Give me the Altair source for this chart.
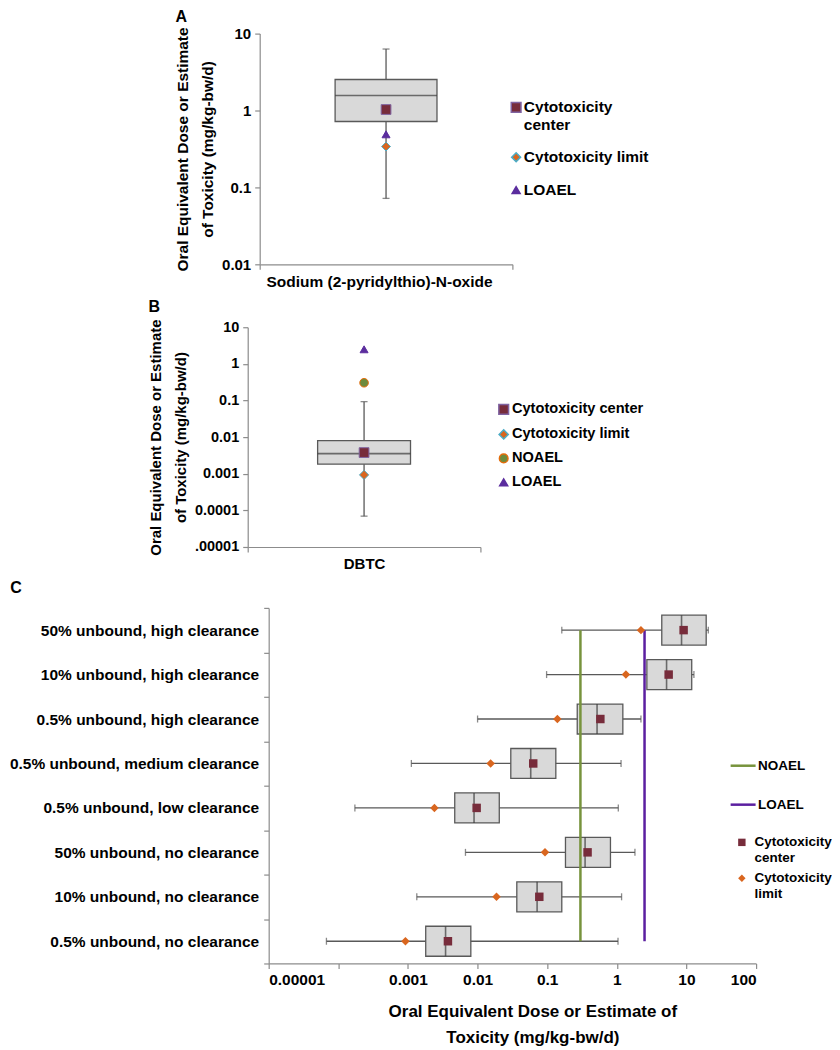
import altair as alt
import pandas as pd

FONT = "Liberation Sans"
AXIS_GREY = "#8C8C8C"
BOX_FILL = "#D9D9D9"
BOX_EDGE = "#595959"

# ---------------- data ----------------
# Panel A
a_compound = ["Sodium (2-pyridylthio)-N-oxide"]
a_low = [0.072]
a_q1 = [0.72]
a_median = [1.57]
a_q3 = [2.53]
a_high = [6.3]
a_series = ["Cytotoxicity center", "Cytotoxicity limit", "LOAEL"]
a_values = [1.03, 0.34, 0.49]

# Panel B
b_compound = ["DBTC"]
b_low = [0.0000695]
b_q1 = [0.00182]
b_median = [0.00355]
b_q3 = [0.0080]
b_high = [0.093]
b_series = ["Cytotoxicity center", "Cytotoxicity limit", "NOAEL", "LOAEL"]
b_values = [0.00378, 0.00093, 0.305, 2.5]

# Panel C
c_scenarios = [
    "50% unbound, high clearance",
    "10% unbound, high clearance",
    "0.5% unbound, high clearance",
    "0.5% unbound, medium clearance",
    "0.5% unbound, low clearance",
    "50% unbound, no clearance",
    "10% unbound, no clearance",
    "0.5% unbound, no clearance",
]
c_low = [0.162, 0.098, 0.010, 0.00112, 0.000173, 0.0067, 0.00134, 0.0000675]
c_q1 = [4.42, 2.7, 0.27, 0.030, 0.0047, 0.183, 0.0366, 0.0018]
c_median = [8.5, 5.18, 0.52, 0.058, 0.0089, 0.35, 0.0716, 0.00347]
c_q3 = [19.2, 11.9, 1.22, 0.133, 0.0205, 0.81, 0.162, 0.008]
c_high = [20.6, 12.8, 2.22, 1.15, 1.05, 1.82, 1.17, 1.04]
c_center = [9.1, 5.55, 0.58, 0.063, 0.0097, 0.38, 0.077, 0.00375]
c_limit = [2.22, 1.35, 0.14, 0.0154, 0.0024, 0.093, 0.0187, 0.00092]
c_ref_names = ["NOAEL", "LOAEL"]
c_ref_values = [0.3, 2.5]

# styles per series
series_order = ["Cytotoxicity center", "Cytotoxicity limit", "NOAEL", "LOAEL"]
series_shape = ["square", "diamond", "circle", "triangle-up"]
series_fill = ["#772C3B", "#D9661F", "#6E8B3D", "#5B2D9E"]
series_edge = ["#8064A2", "#4BACC6", "#E46C0A", "#5B2D9E"]
series_size = [95, 64, 64, 64]
ref_colors = ["#77933C", "#5B1FA0"]

Y_TITLE = ["Oral Equivalent Dose or Estimate", "of Toxicity (mg/kg-bw/d)"]


def series_scales(dom):
    idx = [series_order.index(s) for s in dom]
    return (
        alt.Scale(domain=dom, range=[series_shape[i] for i in idx]),
        alt.Scale(domain=dom, range=[series_fill[i] for i in idx]),
        alt.Scale(domain=dom, range=[series_edge[i] for i in idx]),
        alt.Scale(domain=dom, range=[series_size[i] for i in idx]),
    )


def vertical_panel(letter, compound, low, q1, med, q3, high, series, values,
                   width, height, box_w, ydom, yticks, ylabel_expr,
                   legend, title_offset, font_size, xlabel_offset):
    box_df = pd.DataFrame({"compound": compound, "low": low, "q1": q1,
                           "med": med, "q3": q3, "high": high})
    pts_df = pd.DataFrame({"compound": compound * len(series),
                           "series": series, "value": values})
    yscale = alt.Scale(type="log", domain=ydom)
    yaxis = alt.Axis(values=yticks, labelExpr=ylabel_expr, title=Y_TITLE,
                     titleFontSize=font_size, titleLineHeight=25, titlePadding=6,
                     labelFontSize=font_size - 0.5, labelPadding=4, tickSize=5)
    xaxis = alt.Axis(title=None, labelAngle=0, tickBand="extent", tickSize=5,
                     labelFontSize=font_size, labelPadding=5, labelLimit=400,
                     labelOffset=xlabel_offset)
    X = alt.X("compound:N", scale=alt.Scale(paddingInner=0, paddingOuter=0), axis=xaxis)

    def Y(f):
        return alt.Y(f"{f}:Q", scale=yscale, axis=yaxis)

    base = alt.Chart(box_df)
    whisk = base.mark_rule(color=BOX_EDGE, strokeWidth=1.3).encode(x=X, y=Y("low"), y2="high:Q")
    cap_lo = base.mark_tick(color=BOX_EDGE, size=7, thickness=1.3, orient="horizontal").encode(x=X, y=Y("low"))
    cap_hi = base.mark_tick(color=BOX_EDGE, size=7, thickness=1.3, orient="horizontal").encode(x=X, y=Y("high"))
    box = base.mark_bar(size=box_w, fill=BOX_FILL, stroke=BOX_EDGE, strokeWidth=1.3).encode(
        x=X, y=Y("q1"), y2="q3:Q")
    median = base.mark_tick(size=box_w, thickness=1.6, color="#3A3A3A", orient="horizontal").encode(
        x=X, y=Y("med"))
    dom = [s for s in series_order if s in series]
    sh, fi, st, sz = series_scales(dom)
    pts = alt.Chart(pts_df).mark_point(filled=True, opacity=1, strokeWidth=1).encode(
        x=X, y=Y("value"),
        shape=alt.Shape("series:N", scale=sh, legend=legend, title=None),
        color=alt.Color("series:N", scale=fi, legend=legend, title=None),
        stroke=alt.Stroke("series:N", scale=st, legend=legend, title=None),
        size=alt.Size("series:N", scale=sz, legend=None),
    )
    return alt.layer(whisk, cap_lo, cap_hi, box, median, pts).properties(
        width=width, height=height,
        title=alt.TitleParams(letter, anchor="start", fontSize=16, fontWeight="bold",
                              font=FONT, offset=title_offset),
    )


def spacer(w):
    return alt.Chart(pd.DataFrame({"v": [0]})).mark_point(opacity=0, size=1).properties(width=w, height=1)


legA = alt.Legend(orient="none", legendX=249, legendY=66, padding=0, rowPadding=16,
                  labelFontSize=15.5, labelFont=FONT, labelFontWeight="bold",
                  labelColor="black", symbolSize=50, labelOffset=0, labelLimit=300,
                  labelExpr="datum.label == 'Cytotoxicity center' ? ['Cytotoxicity', 'center'] : datum.label")
panelA = vertical_panel("A", a_compound, a_low, a_q1, a_median, a_q3, a_high,
                        a_series, a_values, 253, 231, 102, [0.01, 10],
                        [0.01, 0.1, 1, 10], "format(datum.value, '~f')",
                        legA, 2, 15.5, -7)

legB = alt.Legend(orient="none", legendX=249, legendY=75, padding=0, rowPadding=8,
                  labelFontSize=14.6, labelFont=FONT, labelFontWeight="bold",
                  labelColor="black", symbolSize=50, labelOffset=1, labelLimit=300)
panelB = vertical_panel("B", b_compound, b_low, b_q1, b_median, b_q3, b_high,
                        b_series, b_values, 233, 220, 93, [0.00001, 10],
                        [0.00001, 0.0001, 0.001, 0.01, 0.1, 1, 10],
                        "datum.value < 0.00002 ? '.00001' : format(datum.value, '~f')",
                        legB, 4, 15, 0)

# ---------------- panel C ----------------
c_box_df = pd.DataFrame({"scenario": c_scenarios, "low": c_low, "q1": c_q1,
                         "med": c_median, "q3": c_q3, "high": c_high})
c_pts_df = pd.DataFrame({
    "scenario": c_scenarios * 2,
    "series": ["Cytotoxicity center"] * len(c_scenarios) + ["Cytotoxicity limit"] * len(c_scenarios),
    "value": c_center + c_limit,
})
c_ref_df = pd.DataFrame({"name": c_ref_names, "value": c_ref_values,
                         "first": [c_scenarios[0]] * 2, "last": [c_scenarios[-1]] * 2})

cx_scale = alt.Scale(type="log", domain=[0.00001, 100])
cx_axis = alt.Axis(values=[0.00001, 0.0001, 0.001, 0.01, 0.1, 1, 10, 100],
                   format="~f", labelFontSize=15.5, labelPadding=4, tickSize=5,
                   title=["Oral Equivalent Dose or Estimate of", "Toxicity (mg/kg-bw/d)"],
                   titleFontSize=17, titleLineHeight=26, titlePadding=16, titleX=264)
cy_axis = alt.Axis(title=None, tickBand="extent", tickSize=5, labelFontSize=15.5,
                   labelPadding=5, labelLimit=400)
cy_scale = alt.Scale(domain=c_scenarios, paddingInner=0, paddingOuter=0)
CY = alt.Y("scenario:N", scale=cy_scale, axis=cy_axis)


def CX(f):
    return alt.X(f"{f}:Q", scale=cx_scale, axis=cx_axis)


cbase = alt.Chart(c_box_df)
c_whisk = cbase.mark_rule(color=BOX_EDGE, strokeWidth=1.3).encode(y=CY, x=CX("low"), x2="high:Q")
c_cap_lo = cbase.mark_tick(color=BOX_EDGE, size=7, thickness=1.3, orient="vertical").encode(y=CY, x=CX("low"))
c_cap_hi = cbase.mark_tick(color=BOX_EDGE, size=7, thickness=1.3, orient="vertical").encode(y=CY, x=CX("high"))
c_box = cbase.mark_bar(size=30, fill=BOX_FILL, stroke=BOX_EDGE, strokeWidth=1.3).encode(
    y=CY, x=CX("q1"), x2="q3:Q")
c_med = cbase.mark_tick(size=30, thickness=1.6, color="#3A3A3A", orient="vertical").encode(
    y=CY, x=CX("med"))

legC_lines = alt.Legend(orient="none", legendX=461, legendY=144, padding=0, rowPadding=18,
                        labelFontSize=13.5, labelFont=FONT, labelFontWeight="bold",
                        labelColor="black", symbolType="stroke", symbolSize=625,
                        symbolStrokeWidth=2.5, labelOffset=1, labelLimit=200)
c_ref = alt.Chart(c_ref_df).mark_rule(strokeWidth=2.5).encode(
    x=CX("value"),
    y=alt.Y("first:N", scale=cy_scale, axis=cy_axis),
    y2="last:N",
    color=alt.Color("name:N", scale=alt.Scale(domain=c_ref_names, range=ref_colors),
                    legend=legC_lines, title=None),
)

legC_pts = alt.Legend(orient="none", legendX=467, legendY=228, padding=0, rowPadding=6,
                      labelFontSize=13.5, labelFont=FONT, labelFontWeight="bold",
                      labelColor="black", symbolSize=55, labelOffset=6, labelLimit=200,
                      labelExpr="split(datum.label, ' ')")
c_dom = ["Cytotoxicity center", "Cytotoxicity limit"]
sh, fi, st, sz = series_scales(c_dom)
c_pts = alt.Chart(c_pts_df).mark_point(filled=True, opacity=1, strokeWidth=1, size=72).encode(
    y=CY, x=CX("value"),
    shape=alt.Shape("series:N", scale=sh, legend=legC_pts, title=None),
    fill=alt.Fill("series:N", scale=fi, legend=legC_pts, title=None),
)

panelC = alt.layer(c_whisk, c_cap_lo, c_cap_hi, c_box, c_med, c_ref, c_pts).properties(
    width=488, height=356,
    title=alt.TitleParams("C", anchor="start", fontSize=16, fontWeight="bold", font=FONT,
                          offset=5, dx=1),
)

IND = dict(shape="independent", fill="independent", stroke="independent",
           size="independent", color="independent")

rowA = alt.hconcat(spacer(167), panelA, spacing=0).resolve_scale(**IND)
rowB = alt.hconcat(spacer(140), panelB, spacing=0).resolve_scale(**IND)
rowC = alt.hconcat(spacer(1), panelC, spacing=0).resolve_scale(**IND)

chart = alt.vconcat(rowA, rowB, rowC, spacing=8).resolve_scale(**IND).properties(
    padding={"left": 0, "top": 0, "right": 0, "bottom": 0}
).configure(font=FONT).configure_view(stroke=None).configure_axis(
    labelFont=FONT, labelFontWeight="bold", labelColor="black",
    titleFont=FONT, titleFontWeight="bold", titleColor="black",
    domainColor=AXIS_GREY, tickColor=AXIS_GREY, domainWidth=1.2, tickWidth=1.2, grid=False,
).configure_legend(labelFont=FONT, labelFontWeight="bold", labelColor="black")

chart.save("out.html", embed_options={"renderer": "svg", "actions": False})
